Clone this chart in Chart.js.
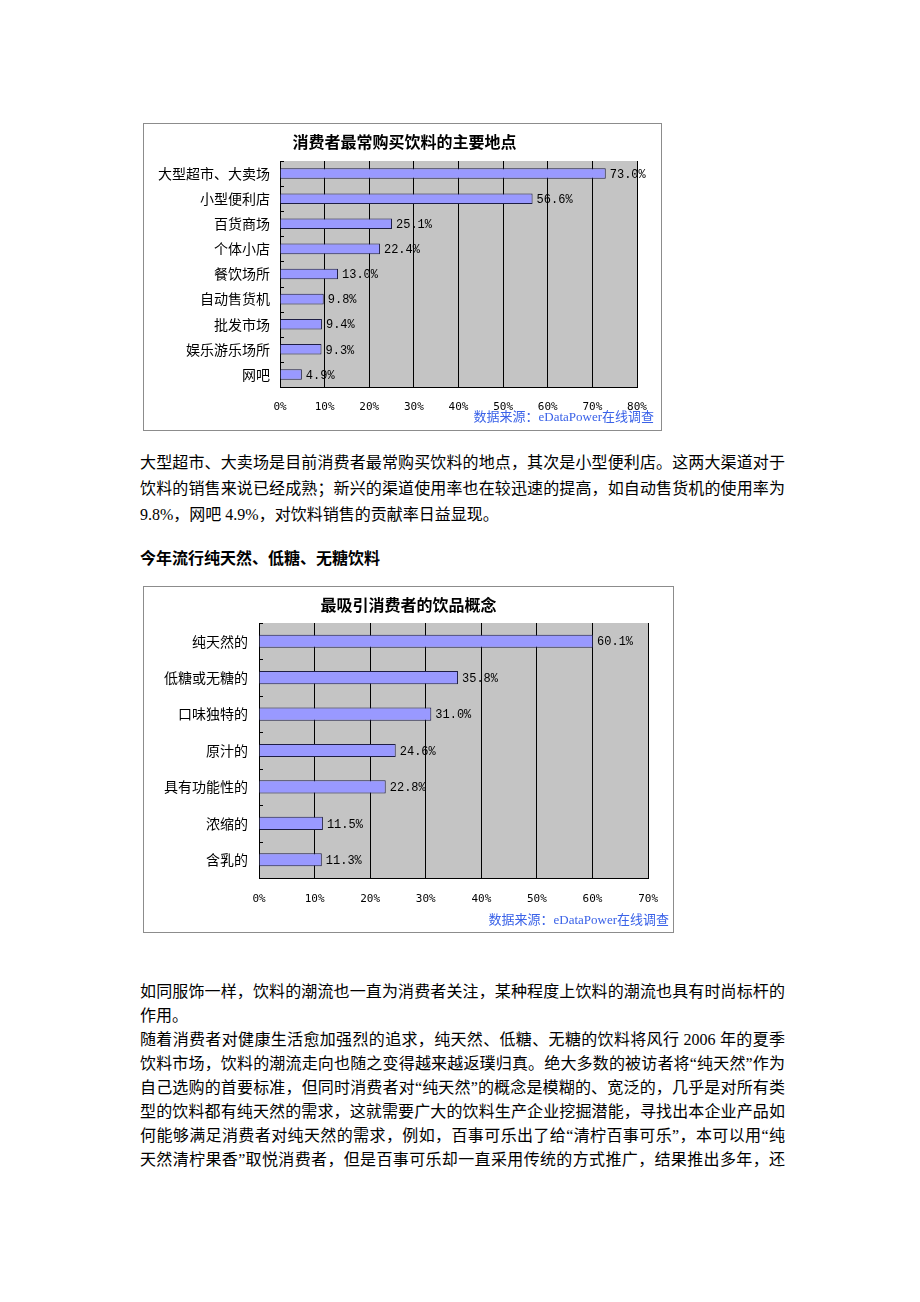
<!DOCTYPE html>
<html>
<head>
<meta charset="utf-8">
<script src="https://cdn.jsdelivr.net/npm/chart.js@4/dist/chart.umd.min.js"></script>
<style>
  html, body { margin: 0; padding: 0; background: #fff; }
  body { width: 920px; height: 1302px; position: relative; overflow: hidden;
         font-family: "Liberation Serif", "Noto Sans CJK SC", serif; color: #000; }
  .box { position: absolute; border: 1px solid #8c8c8c; background: #fff; }
  .box canvas { position: absolute; left: 0; top: 0; }
  .src { position: absolute; font: 13px "Liberation Serif", "Noto Sans CJK SC", serif;
         color: #3a62e8; white-space: nowrap; line-height: 16px; }
  .p { position: absolute; left: 140px; width: 645px; font-size: 16px; }
  .p div { text-align: justify; text-align-last: justify; white-space: nowrap; }
  .p div.e { text-align-last: left; }
  .h { position: absolute; left: 140px; font-size: 16px; font-weight: bold; line-height: 26px;
       font-family: "Noto Sans CJK SC", sans-serif; }
</style>
</head>
<body>

<div class="box" id="box1" style="left:143px; top:123px; width:517px; height:306px;">
  <canvas id="c1" width="517" height="306"></canvas>
</div>
<div class="src" style="right:266px; top:409px;">数据来源：eDataPower在线调查</div>

<div class="p" style="top:450px; line-height:26px;">
  <div>大型超市、大卖场是目前消费者最常购买饮料的地点，其次是小型便利店。这两大渠道对于</div>
  <div>饮料的销售来说已经成熟；新兴的渠道使用率也在较迅速的提高，如自动售货机的使用率为</div>
  <div class="e">9.8%，网吧 4.9%，对饮料销售的贡献率日益显现。</div>
</div>

<div class="h" style="top:544px;">今年流行纯天然、低糖、无糖饮料</div>

<div class="box" id="box2" style="left:143px; top:586px; width:529px; height:345px;">
  <canvas id="c2" width="529" height="345"></canvas>
</div>
<div class="src" style="right:251px; top:912px;">数据来源：eDataPower在线调查</div>

<div class="p" style="top:980px; line-height:24px;">
  <div>如同服饰一样，饮料的潮流也一直为消费者关注，某种程度上饮料的潮流也具有时尚标杆的</div>
  <div class="e">作用。</div>
  <div>随着消费者对健康生活愈加强烈的追求，纯天然、低糖、无糖的饮料将风行 2006 年的夏季</div>
  <div>饮料市场，饮料的潮流走向也随之变得越来越返璞归真。绝大多数的被访者将“纯天然”作为</div>
  <div>自己选购的首要标准，但同时消费者对“纯天然”的概念是模糊的、宽泛的，几乎是对所有类</div>
  <div>型的饮料都有纯天然的需求，这就需要广大的饮料生产企业挖掘潜能，寻找出本企业产品如</div>
  <div>何能够满足消费者对纯天然的需求，例如，百事可乐出了给“清柠百事可乐”，本可以用“纯</div>
  <div>天然清柠果香”取悦消费者，但是百事可乐却一直采用传统的方式推广，结果推出多年，还</div>
</div>

<script>
// ---------- data ----------
const chart1Title = '消费者最常购买饮料的主要地点';
const placeLabels = ['大型超市、大卖场', '小型便利店', '百货商场', '个体小店', '餐饮场所',
                     '自动售货机', '批发市场', '娱乐游乐场所', '网吧'];
const placeValues = [73.0, 56.6, 25.1, 22.4, 13.0, 9.8, 9.4, 9.3, 4.9];
const chart1TickMax = 80;

const chart2Title = '最吸引消费者的饮品概念';
const conceptLabels = ['纯天然的', '低糖或无糖的', '口味独特的', '原汁的', '具有功能性的', '浓缩的', '含乳的'];
const conceptValues = [60.1, 35.8, 31.0, 24.6, 22.8, 11.5, 11.3];
const chart2TickMax = 70;

const tickStep = 10;

// ---------- drawing ----------
const decor = {
  id: 'decor',
  beforeDraw(chart) {
    const { ctx, chartArea: a } = chart;
    ctx.save();
    ctx.fillStyle = '#c4c4c4';
    ctx.fillRect(a.left, a.top, a.right - a.left, a.bottom - a.top);
    ctx.restore();
  },
  afterDatasetsDraw(chart) {
    const { ctx, chartArea: a } = chart;
    const xs = chart.scales.x, ys = chart.scales.y;
    const vals = chart.data.datasets[0].data;
    ctx.save();
    ctx.font = '12px "Liberation Mono", "DejaVu Sans Mono", monospace';
    ctx.fillStyle = '#000';
    ctx.textAlign = 'left';
    ctx.textBaseline = 'middle';
    vals.forEach((v, i) => {
      ctx.fillText(v.toFixed(1) + '%', xs.getPixelForValue(v) + 4, ys.getPixelForValue(i) + 1);
    });
    // small inner ticks on the category axis, at category boundaries
    const half = vals.length > 1 ? (ys.getPixelForValue(1) - ys.getPixelForValue(0)) / 2 : 0;
    ctx.strokeStyle = '#000';
    ctx.lineWidth = 1;
    for (let i = 0; i < vals.length; i++) {
      const y = Math.round(ys.getPixelForValue(i) - half) + 0.5;
      ctx.beginPath();
      ctx.moveTo(a.left, y);
      ctx.lineTo(a.left + 4, y);
      ctx.stroke();
    }
    ctx.restore();
  },
  afterDraw(chart, args, opts) {
    if (!opts || !opts.text) return;
    const ctx = chart.ctx;
    ctx.save();
    ctx.font = 'bold 16px "Noto Sans CJK SC", sans-serif';
    ctx.fillStyle = '#000';
    ctx.textAlign = 'center';
    ctx.textBaseline = 'middle';
    ctx.fillText(opts.text, chart.width / 2 + opts.dx, opts.y);
    ctx.restore();
  }
};

function buildChart(canvasId, title, labels, values, max, g) {
  return new Chart(document.getElementById(canvasId), {
    type: 'bar',
    data: {
      labels: labels,
      datasets: [{
        data: values,
        backgroundColor: '#9999ff',
        borderColor: '#1e1e44',
        borderWidth: 1,
        barPercentage: g.barPct,
        categoryPercentage: 1.0
      }]
    },
    plugins: [decor],
    options: {
      indexAxis: 'y',
      responsive: false,
      animation: false,
      devicePixelRatio: 1,
      layout: { padding: { left: 0, right: g.right, top: g.top, bottom: 0 } },
      plugins: {
        legend: { display: false },
        tooltip: { enabled: false },
        title: { display: false },
        decor: { text: title, dx: g.titleDx, y: g.titleY }
      },
      scales: {
        x: {
          type: 'linear',
          min: 0,
          max: max,
          ticks: {
            stepSize: tickStep,
            color: '#000',
            padding: g.xPad,
            maxRotation: 0,
            font: { family: '"DejaVu Sans Mono", "Liberation Mono", monospace', size: 11 },
            callback: v => v + '%'
          },
          grid: { display: true, color: '#000', lineWidth: 1, drawTicks: false },
          border: { display: true, color: '#000', width: 1 },
          afterFit: s => { s.height = g.xHeight; }
        },
        y: {
          type: 'category',
          ticks: {
            color: '#000',
            padding: g.yPad,
            font: { family: '"Noto Sans CJK SC", sans-serif', size: 14 }
          },
          grid: { display: false, drawTicks: false },
          border: { display: true, color: '#000', width: 1 },
          afterFit: s => { s.width = g.yWidth; }
        }
      }
    }
  });
}

buildChart('c1', chart1Title, placeLabels, placeValues, chart1TickMax,
  { right: 24, top: 37, titleDx: 2, titleY: 18, xPad: 14, xHeight: 43, yPad: 10, yWidth: 136, barPct: 0.42 });
buildChart('c2', chart2Title, conceptLabels, conceptValues, chart2TickMax,
  { right: 14, top: 36, titleDx: 0, titleY: 18, xPad: 15, xHeight: 54, yPad: 11, yWidth: 115, barPct: 0.36 });
</script>
</body>
</html>
